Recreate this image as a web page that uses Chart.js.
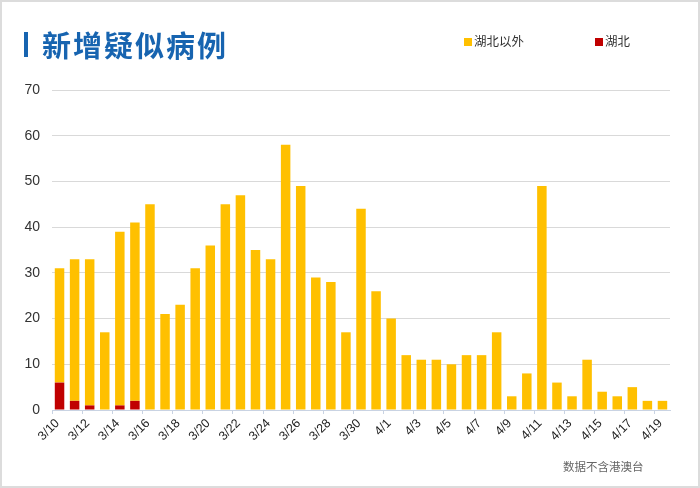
<!DOCTYPE html>
<html><head><meta charset="utf-8">
<script src="https://cdn.jsdelivr.net/npm/chart.js@4"></script>
<style>
html,body{margin:0;padding:0;background:#fff;}
#wrap{position:relative;width:696px;height:484px;border:2px solid #dcdcdc;background:#fff;overflow:hidden;}
#c{position:absolute;left:-2px;top:-2px;}
#bar{position:absolute;left:22px;top:30px;width:4px;height:25px;background:#1764b0;}
#title{position:absolute;left:40px;top:24px;font-family:"Noto Sans CJK SC";font-weight:700;font-size:29px;color:#1764b0;letter-spacing:2px;line-height:36px;}
.lg{position:absolute;top:31px;font-family:"Noto Sans CJK SC";font-size:12.5px;color:#333;line-height:16px;}
.lg i{display:inline-block;width:8px;height:8px;margin-right:2px;vertical-align:0px;}
#foot{position:absolute;left:561px;top:456px;font-family:"Noto Sans CJK SC";font-size:11.5px;color:#666;}
</style></head>
<body><div id="wrap">
<canvas id="c" width="700" height="488"></canvas>
<div id="bar"></div>
<div id="title">新增疑似病例</div>
<div id="foot">数据不含港澳台</div>
</div>
<script>
const categories = ["3/10","3/11","3/12","3/13","3/14","3/15","3/16","3/17","3/18","3/19","3/20","3/21","3/22","3/23","3/24","3/25","3/26","3/27","3/28","3/29","3/30","3/31","4/1","4/2","4/3","4/4","4/5","4/6","4/7","4/8","4/9","4/10","4/11","4/12","4/13","4/14","4/15","4/16","4/17","4/18","4/19"];
const hubei = [6,2,1,0,1,2,0,0,0,0,0,0,0,0,0,0,0,0,0,0,0,0,0,0,0,0,0,0,0,0,0,0,0,0,0,0,0,0,0,0,0];
const outsideHubei = [25,31,32,17,38,39,45,21,23,31,36,45,47,35,33,58,49,29,28,17,44,26,20,12,11,11,10,12,12,17,3,8,49,6,3,11,4,3,5,2,2];
const yTicks = [0,10,20,30,40,50,60,70];
const seriesNames = ["湖北以外","湖北"];
const seriesColors = ["#ffc000","#c00000"];

const legendX = [462, 593];
seriesNames.forEach((n,i)=>{
  const d=document.createElement('div');d.className='lg';d.style.left=legendX[i]+'px';
  d.innerHTML='<i style="background:'+seriesColors[i]+'"></i>'+n;
  document.getElementById('wrap').appendChild(d);
});

new Chart(document.getElementById('c'), {
  type:'bar',
  data:{labels:categories,datasets:[
    {label:seriesNames[1],data:hubei,backgroundColor:seriesColors[1],barPercentage:0.63,categoryPercentage:1,order:1},
    {label:seriesNames[0],data:outsideHubei,backgroundColor:seriesColors[0],barPercentage:0.63,categoryPercentage:1,order:2}
  ]},
  options:{
    responsive:false,animation:false,
    layout:{padding:{left:20,right:30,top:90,bottom:0}},
    plugins:{legend:{display:false},tooltip:{enabled:false}},
    scales:{
      x:{stacked:true,
        grid:{display:true,drawOnChartArea:false,drawTicks:true,tickLength:4,offset:true,
          color:function(ctx){return (ctx.index%2===0)?'#c9d3e3':'rgba(0,0,0,0)';}},
        border:{color:'#c9d3e3',width:1},
        ticks:{autoSkip:false,maxRotation:45,minRotation:45,color:'#222',font:{family:'Liberation Sans',size:12.5},padding:2,labelOffset:-2,
          callback:function(v,i){return i%2===0?categories[i]:'';}},
        afterFit:function(s){s.height=78;}
      },
      y:{stacked:true,min:0,max:70,
        afterBuildTicks:function(s){s.ticks=yTicks.map(v=>({value:v}));},
        grid:{color:'#d9d9d9',lineWidth:1,drawTicks:false},
        border:{display:false},
        ticks:{color:'#333',font:{family:'Liberation Sans',size:14},padding:12},
        afterFit:function(s){s.width=32;}
      }
    }
  }
});
</script>
</body></html>
